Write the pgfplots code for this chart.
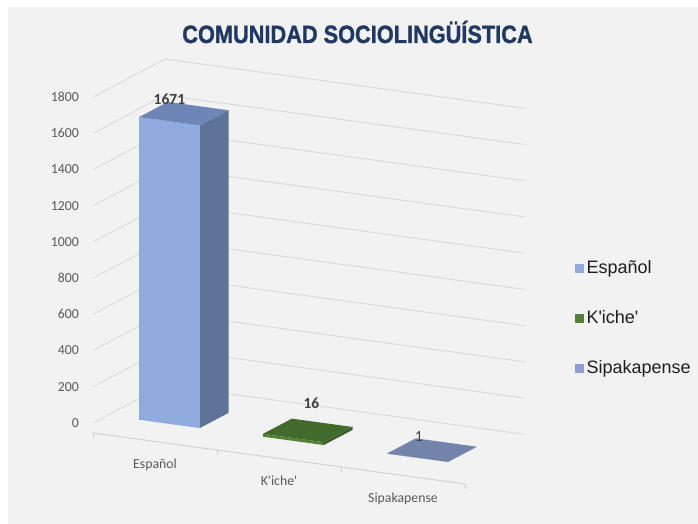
\documentclass[border=0pt]{standalone}
\usepackage{pgfplots}
\pgfplotsset{compat=1.18}
\usepackage{fontspec}
\setmainfont{Carlito}
\newfontfamily\arialf{Liberation Sans}
\newfontfamily\titlef{Liberation Sans}[BoldFeatures={FakeBold=1.3}]
\usetikzlibrary{backgrounds}
\definecolor{bg}{HTML}{F2F2F2}
\definecolor{gridgray}{HTML}{D9D9D9}
\definecolor{axisgray}{HTML}{CFCFCF}
\definecolor{labelgray}{HTML}{595959}
\definecolor{datagray}{HTML}{404040}
\definecolor{titleblue}{HTML}{1F3864}
\definecolor{legtext}{HTML}{1E1E1E}
\definecolor{espF}{HTML}{8FAADC}
\definecolor{espT}{HTML}{6E85B8}
\definecolor{espR}{HTML}{5F7298}
\definecolor{kicF}{HTML}{548235}
\definecolor{kicT}{HTML}{416A2C}
\definecolor{kicR}{HTML}{3B5E26}
\definecolor{sipF}{HTML}{8C9ED4}
\definecolor{sipT}{HTML}{7383A9}
\definecolor{sipR}{HTML}{5F6E92}
\begin{document}
\begin{tikzpicture}
\begin{axis}[
  x={(124pt,-17pt)}, y={(72pt,38pt)}, z={(0pt,0.18111pt)},
  xmin=0, xmax=2.9, ymin=0, ymax=1, zmin=-55, zmax=1800,
  clip=false,
  axis line style={draw=none},
  tick style={draw=none},
  major tick length=0pt,
  xtick={0.5,1.5,2.5},
  xticklabels={Español,K\textquotesingle iche\textquotesingle,Sipakapense},
  ytick=\empty,
  ztick={0,200,...,1800},
  xmajorgrids=false, ymajorgrids=false, zmajorgrids=true,
  grid style={draw=gridgray, line width=0.9pt},
  /pgf/number format/assume math mode=true,
  /pgf/number format/1000 sep={},
  ticklabel style={font=\fontsize{13.8}{15}\selectfont, text=labelgray, inner sep=0pt},
  x tick label style={anchor=base, yshift=-27pt},
  z tick label style={anchor=east, xshift=-14pt},
  every node near coord/.append style={font=\bfseries\fontsize{15.5}{17}\selectfont, text=datagray, anchor=base},
  legend style={at={(axis description cs:1.1168,0.5228)}, anchor=north west,
    draw=none, fill=none, inner sep=0pt, outer sep=0pt,
    font=\arialf\fontsize{18}{20}\selectfont, text=legtext,
    row sep=33pt,
    nodes={inner ysep=0pt, inner xsep=2.5pt, text height=13pt, text depth=4pt}},
  legend cell align=left,
  legend image code/.code={\fill[#1] (0pt,-3.5pt) rectangle (9pt,5.5pt);},
]
\coordinate (O) at (axis cs:0,0,0);
% category axis line with ticks
\draw[axisgray, line width=0.9pt] (axis cs:0,0,-55) -- (axis cs:3,0,-55);
\pgfplotsinvokeforeach{0,1,2,3}{\draw[axisgray, line width=0.9pt] (axis cs:#1,0,-55) -- ++(0pt,-5pt);}

% Espanol bar (1671)
\addplot3[forget plot, fill=espR, draw=none] coordinates {(0.745,0.2,0) (0.745,0.6,0) (0.745,0.6,1671) (0.745,0.2,1671)};
\addplot3[fill=espF, draw=none] coordinates {(0.255,0.2,0) (0.745,0.2,0) (0.745,0.2,1671) (0.255,0.2,1671)};
\addlegendentry{Español}
\addplot3[forget plot, fill=espT, draw=none] coordinates {(0.255,0.2,1671) (0.745,0.2,1671) (0.745,0.6,1671) (0.255,0.6,1671)};

% K'iche' bar (16)
\addplot3[forget plot, fill=kicR, draw=none] coordinates {(1.745,0.2,0) (1.745,0.6,0) (1.745,0.6,16) (1.745,0.2,16)};
\addplot3[fill=kicF, draw=none] coordinates {(1.255,0.2,0) (1.745,0.2,0) (1.745,0.2,16) (1.255,0.2,16)};
\addlegendentry{K\textquotesingle iche\textquotesingle}
\addplot3[forget plot, fill=kicT, draw=none] coordinates {(1.255,0.2,16) (1.745,0.2,16) (1.745,0.6,16) (1.255,0.6,16)};

% Sipakapense bar (1)
\addplot3[forget plot, fill=sipR, draw=none] coordinates {(2.745,0.2,0) (2.745,0.6,0) (2.745,0.6,1) (2.745,0.2,1)};
\addplot3[fill=sipF, draw=none] coordinates {(2.255,0.2,0) (2.745,0.2,0) (2.745,0.2,1) (2.255,0.2,1)};
\addlegendentry{Sipakapense}
\addplot3[forget plot, fill=sipT, draw=none] coordinates {(2.255,0.2,1) (2.745,0.2,1) (2.745,0.6,1) (2.255,0.6,1)};

% data labels
\addplot3[forget plot, draw=none, mark=none, point meta=z, nodes near coords,
  every node near coord/.append style={yshift=17pt}] coordinates {(0.5,0.2,1671)};
\addplot3[forget plot, draw=none, mark=none, point meta=z, nodes near coords,
  every node near coord/.append style={xshift=18pt, yshift=30pt}] coordinates {(1.5,0.2,16)};
\addplot3[forget plot, draw=none, mark=none, point meta=z, nodes near coords,
  every node near coord/.append style={xshift=1.5pt, yshift=16.5pt, font=\fontsize{15.5}{17}\selectfont}] coordinates {(2.5,0.2,1)};
\end{axis}
\node[anchor=base, text=titleblue, font=\titlef\bfseries\fontsize{25}{28}\selectfont, inner sep=0pt]
  at ([shift={(264.5pt,380pt)}]O) {\scalebox{0.87}[1]{COMUNIDAD SOCIOLINGÜÍSTICA}};
\begin{pgfonlayer}{background}
  \fill[white] ([shift={(-93pt,-101pt)}]O) rectangle ([shift={(605pt,423pt)}]O);
  \fill[bg] ([shift={(-85pt,-101pt)}]O) rectangle ([shift={(605pt,416pt)}]O);
\end{pgfonlayer}
\pgfresetboundingbox
\useasboundingbox ([shift={(-93pt,-101pt)}]O) rectangle ([shift={(605pt,423pt)}]O);
\end{tikzpicture}
\end{document}
